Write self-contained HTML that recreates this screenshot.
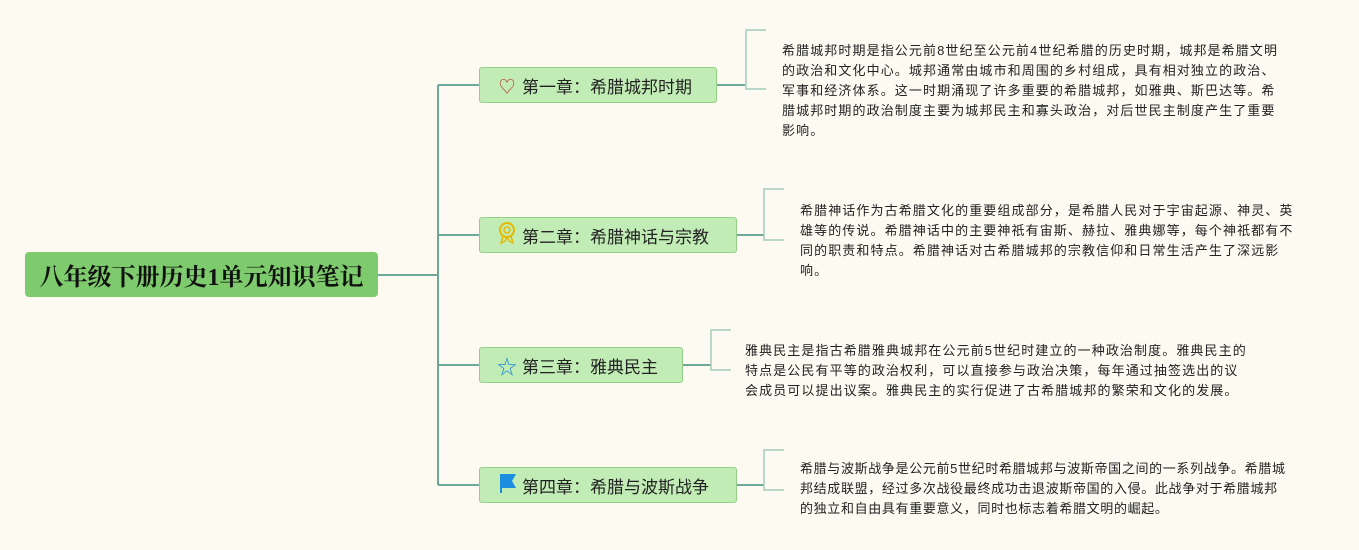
<!DOCTYPE html>
<html><head><meta charset="utf-8"><style>
body{margin:0;width:1359px;height:550px;background:#fdfbf1;position:relative;overflow:hidden;font-family:"Liberation Sans","Noto Sans CJK SC",sans-serif}
.n{position:absolute;box-sizing:border-box;background:#c1ecb5;border:1.5px solid #93cf86;border-radius:3px;font-size:17px;color:#222;display:flex;align-items:center;padding-left:16px}
.n span.i{width:22px;margin-right:4px;display:inline-block;text-align:center}
.t{position:absolute;font-size:13px;line-height:20px;color:#222;white-space:nowrap;letter-spacing:1.1px}
</style></head><body>
<svg width="1359" height="550" style="position:absolute;left:0;top:0">
<g fill="none" stroke="#6fa79a" stroke-width="2">
<path d="M378 275H438"/>
<path d="M438 85V485"/>
<path d="M438 85H479M438 235H479M438 365H479M438 485H479"/>
<path d="M717 85H745M737 235H764M683 365H711M737 485H764"/>
</g>
<g fill="none" stroke="#a3cdbd" stroke-width="1.5">
<path d="M766 30H746V89H766"/>
<path d="M784 189H764V240H784"/>
<path d="M731 330H711V370H731"/>
<path d="M784 450H764V490H784"/>
</g>
</svg>
<div style="position:absolute;left:25px;top:252px;width:353px;height:45px;background:#7dcb6c;border-radius:4px;font-family:'Liberation Serif','Noto Serif CJK SC',serif;font-weight:bold;font-size:24px;display:flex;align-items:center;justify-content:center;color:#111">八年级下册历史1单元知识笔记</div>
<div class="n" style="left:479px;top:67px;width:238px;height:36px"><span class="i" style="color:#c0392b">♡</span>第一章：希腊城邦时期</div>
<div class="n" style="left:479px;top:217px;width:258px;height:36px"><span class="i"><svg width="20" height="24"><circle cx="10" cy="9" r="7" fill="none" stroke="#e6b800" stroke-width="2"/><circle cx="10" cy="9" r="3" fill="none" stroke="#e6b800" stroke-width="1.5"/><path d="M6 15L4 22L8 20L10 16M14 15L16 22L12 20L10 16" fill="none" stroke="#e6b800" stroke-width="1.5"/></svg></span>第二章：希腊神话与宗教</div>
<div class="n" style="left:479px;top:347px;width:204px;height:36px"><span class="i" style="color:#1e88d8;font-size:20px">☆</span>第三章：雅典民主</div>
<div class="n" style="left:479px;top:467px;width:258px;height:36px"><span class="i"><svg width="20" height="22"><path d="M3 2H19L15 9L19 16H5V21H3Z" fill="#1b8ee0"/></svg></span>第四章：希腊与波斯战争</div>
<div class="t" style="left:782px;top:41px">希腊城邦时期是指公元前8世纪至公元前4世纪希腊的历史时期，城邦是希腊文明<br>的政治和文化中心。城邦通常由城市和周围的乡村组成，具有相对独立的政治、<br>军事和经济体系。这一时期涌现了许多重要的希腊城邦，如雅典、斯巴达等。希<br>腊城邦时期的政治制度主要为城邦民主和寡头政治，对后世民主制度产生了重要<br>影响。</div>
<div class="t" style="left:800px;top:201px">希腊神话作为古希腊文化的重要组成部分，是希腊人民对于宇宙起源、神灵、英<br>雄等的传说。希腊神话中的主要神祇有宙斯、赫拉、雅典娜等，每个神祇都有不<br>同的职责和特点。希腊神话对古希腊城邦的宗教信仰和日常生活产生了深远影<br>响。</div>
<div class="t" style="left:745px;top:341px">雅典民主是指古希腊雅典城邦在公元前5世纪时建立的一种政治制度。雅典民主的<br>特点是公民有平等的政治权利，可以直接参与政治决策，每年通过抽签选出的议<br>会成员可以提出议案。雅典民主的实行促进了古希腊城邦的繁荣和文化的发展。</div>
<div class="t" style="left:800px;top:459px;letter-spacing:0.65px">希腊与波斯战争是公元前5世纪时希腊城邦与波斯帝国之间的一系列战争。希腊城<br>邦结成联盟，经过多次战役最终成功击退波斯帝国的入侵。此战争对于希腊城邦<br>的独立和自由具有重要意义，同时也标志着希腊文明的崛起。</div>
</body></html>
